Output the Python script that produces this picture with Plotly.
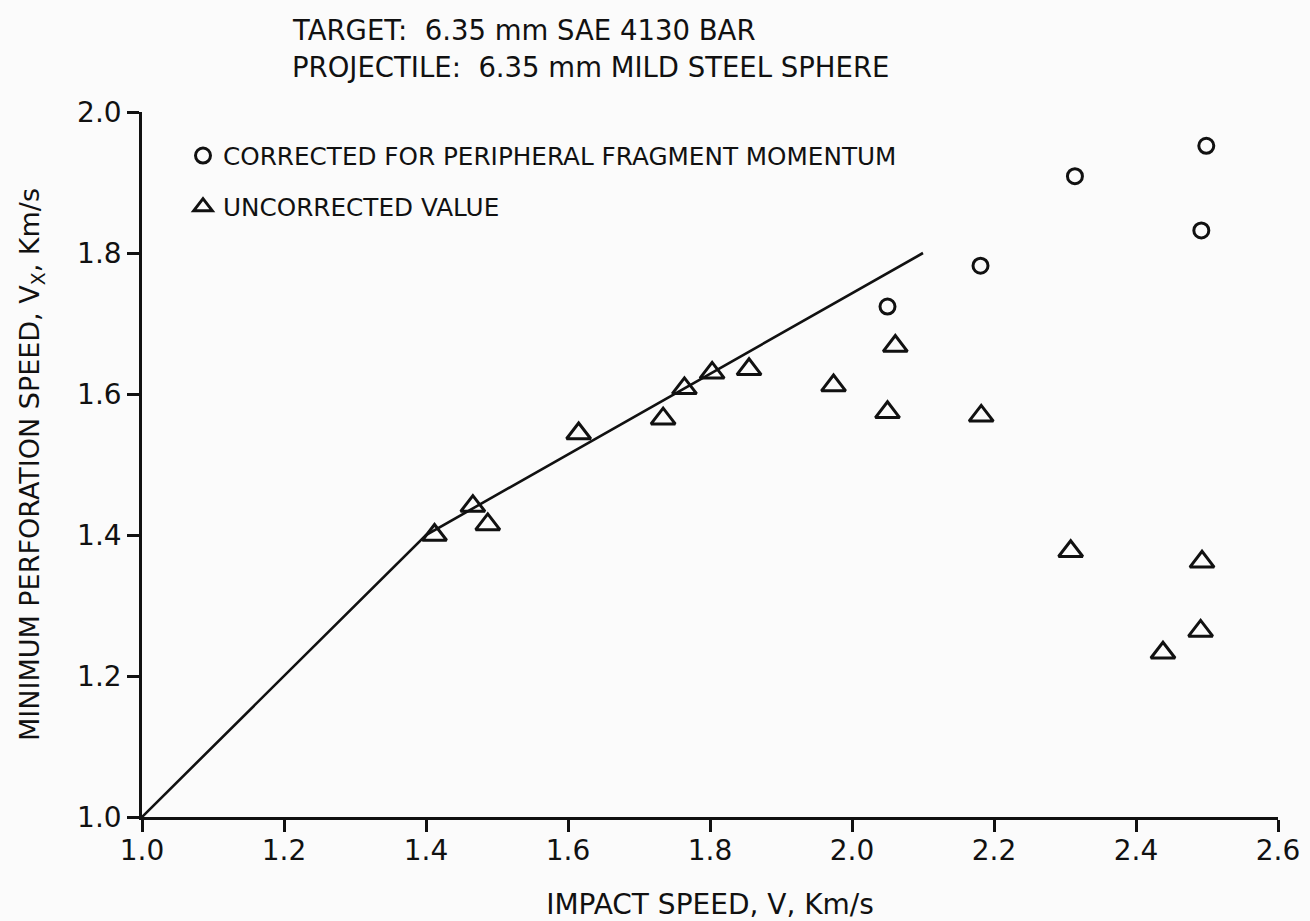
import plotly.graph_objects as go

# Uncorrected minimum perforation speed measurements (km/s)
uncorr_v = [1.412, 1.466, 1.487, 1.615, 1.734, 1.764, 1.803, 1.855,
            1.974, 2.050, 2.061, 2.182, 2.308, 2.493, 2.491, 2.438]
uncorr_vx = [1.400, 1.441, 1.415, 1.544, 1.565, 1.608, 1.630, 1.635,
             1.612, 1.574, 1.668, 1.569, 1.377, 1.362, 1.264, 1.233]

# Values corrected for peripheral fragment momentum (km/s)
corr_v = [2.050, 2.181, 2.314, 2.492, 2.499]
corr_vx = [1.724, 1.782, 1.909, 1.832, 1.952]

# Fitted curve through the data
fit_v = [1.0, 1.4, 2.1]
fit_vx = [1.0, 1.4, 1.8]

tick_vals = [1.0, 1.2, 1.4, 1.6, 1.8, 2.0, 2.2, 2.4, 2.6]

header_lines = ["TARGET:\u00a0 6.35 mm SAE 4130 BAR",
                "PROJECTILE:\u00a0 6.35 mm MILD STEEL SPHERE"]

FONT = "DejaVu Sans, Liberation Sans, sans-serif"
INK = "#111111"

fig = go.Figure()

fig.add_trace(go.Scatter(
    x=fit_v, y=fit_vx, mode="lines",
    line=dict(color=INK, width=2.6),
    showlegend=False, hoverinfo="skip", cliponaxis=False,
))

fig.add_trace(go.Scatter(
    x=corr_v, y=corr_vx, mode="markers",
    name="CORRECTED FOR PERIPHERAL FRAGMENT MOMENTUM",
    legendgroup="corr",
    marker=dict(symbol="circle-open", size=15, color=INK,
                line=dict(color=INK, width=3)),
    cliponaxis=False,
))

fig.add_trace(go.Scatter(
    x=uncorr_v, y=uncorr_vx, mode="markers",
    name="UNCORRECTED VALUE",
    legendgroup="uncorr",
    marker=dict(symbol="triangle-up-open", size=21, color=INK,
                line=dict(color=INK, width=3)),
    cliponaxis=False,
))

axis_common = dict(
    showgrid=False, zeroline=False, automargin=False,
    showline=True, linecolor=INK, linewidth=2.5,
    ticks="outside", ticklen=12, tickwidth=2.5, tickcolor=INK,
    tickfont=dict(family=FONT, size=28, color=INK),
    tickformat=".1f",
)

# Two-line header above the plot, left-aligned
for text, ypx in zip(header_lines, [30, 67]):
    fig.add_annotation(
        text=text, showarrow=False,
        xref="paper", x=(290 - 142) / 1136, xanchor="left",
        yref="paper", y=(817 - ypx) / 705, yanchor="middle",
        font=dict(family=FONT, size=27.5, color=INK),
    )

fig.update_layout(
    width=1310, height=921,
    margin=dict(l=142, r=32, t=112, b=104),
    paper_bgcolor="#fbfbfb", plot_bgcolor="#fbfbfb",
    xaxis=dict(
        range=[1.0, 2.6], tickvals=tick_vals, ticklabelstandoff=-5,
        title=dict(text="IMPACT SPEED, V, Km/s", standoff=40,
                   font=dict(family=FONT, size=28, color=INK)),
        **axis_common,
    ),
    yaxis=dict(
        range=[1.0, 2.0], dtick=0.2, tick0=1.0,
        title=dict(text="MINIMUM PERFORATION SPEED, V<sub>X</sub>, Km/s",
                   standoff=30,
                   font=dict(family=FONT, size=27, color=INK)),
        **axis_common,
    ),
    legend=dict(
        x=(183 - 142) / 1136, xanchor="left",
        y=1 - (133 - 112) / 705, yanchor="top",
        bgcolor="rgba(0,0,0,0)",
        font=dict(family=FONT, size=24.7, color=INK),
        traceorder="grouped", tracegroupgap=16,
        itemsizing="trace",
    ),
)

fig.write_html("out.html")
